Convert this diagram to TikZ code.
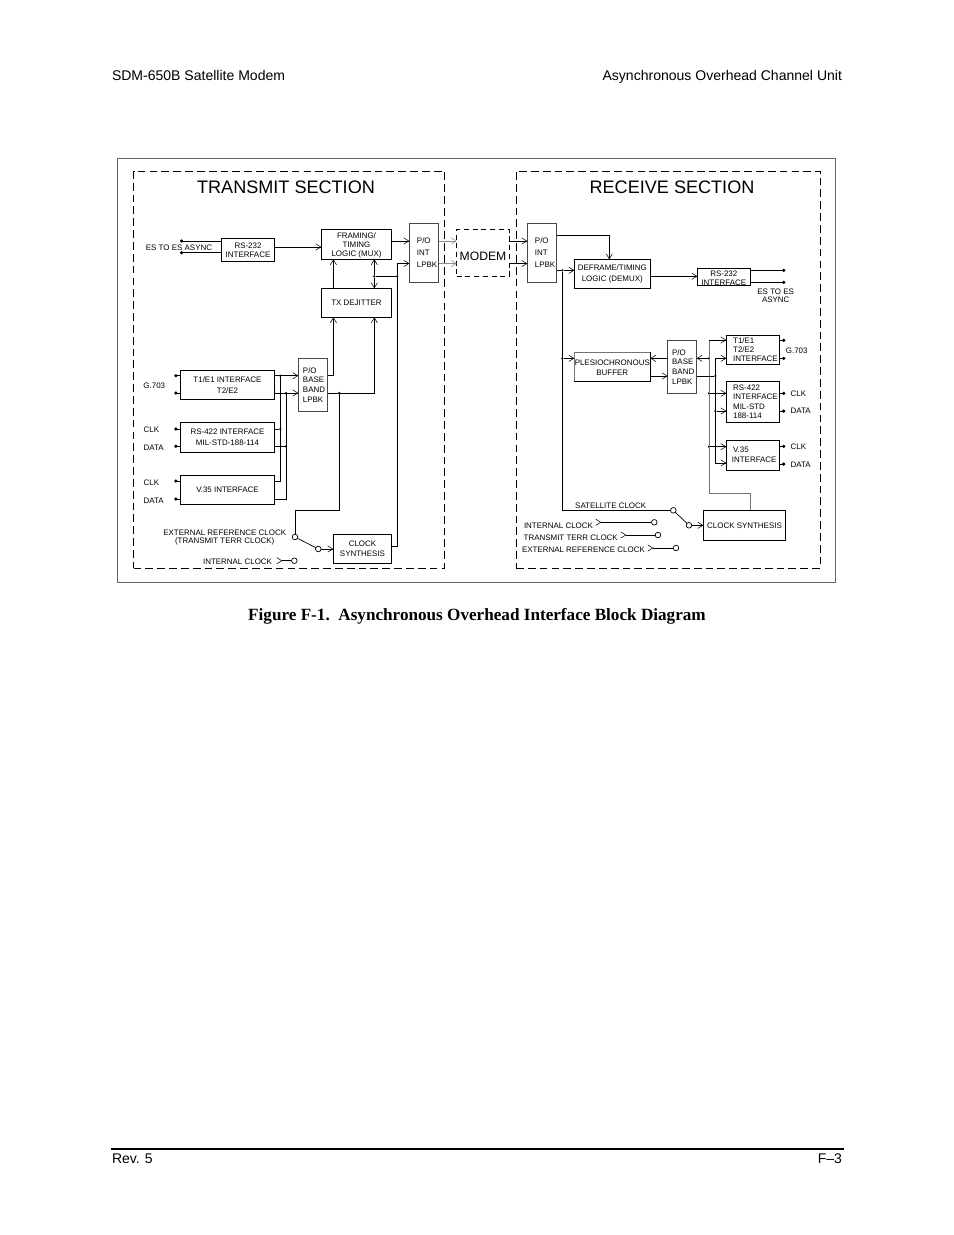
\documentclass[tikz,border=0pt]{standalone}
\usepackage{fontspec}
\setmainfont{Liberation Sans}
\newfontfamily\capfont{Liberation Serif}
\usetikzlibrary{arrows.meta,calc}
\newcommand\dgf[1]{\fontsize{5.1}{#1}\selectfont}
\newcommand\kk[1]{\hspace*{#1pt}}
\newcommand\dn[1]{\rule{0pt}{#1pt}}
\tikzset{
  x=0.6415pt,y=-0.6415pt,
  ln/.style={line width=0.62pt,black},
  ar/.style={ln,-{Straight Barb[length=3.2pt,width=4pt,line width=0.35pt]}},
  gar/.style={line width=0.62pt,black!45,-{Straight Barb[length=3.2pt,width=4pt,line width=0.35pt]}},
  gln/.style={line width=0.62pt,black!55},
  rev/.style={ln,{Straight Barb[length=3.2pt,width=4pt,line width=0.35pt,reversed]}-},
  blk/.style={draw=black,line width=0.62pt,inner sep=0pt,outer sep=0pt,align=center,font=\dgf{5.8}},
  pobox/.style={blk,draw=black!72,align=left,font=\dgf{7.7}},
  dbox/.style={draw=black,line width=0.62pt,dash pattern=on 5pt off 2.6pt},
  lb/.style={inner sep=0pt,outer sep=0pt,font=\dgf{5.4},align=center,yshift=-0.5pt},
  jd/.style={circle,fill=black,inner sep=0pt,minimum size=1.6pt,outer sep=0pt},
  sw/.style={circle,draw=black,fill=white,line width=0.45pt,inner sep=0pt,minimum size=3.6pt,outer sep=0pt},
  hd/.style={inner sep=0pt,outer sep=0pt,font=\fontsize{9}{11}\selectfont},
  ttl/.style={inner sep=0pt,outer sep=0pt,font=\fontsize{11.6}{14}\selectfont},
}
\newcommand\bx[6][]{\node[blk,minimum width={(#5-#3)*0.6415pt},minimum height={(#6-#4)*0.6415pt},#1] (#2) at ({(#3+#5)/2},{(#4+#6)/2})}
\newcommand\jd[3]{\node[jd] (#1) at (#2,#3) {};}
\newcommand\co[3]{\coordinate (#1) at (#2,#3);}
\begin{document}
\begin{tikzpicture}
\useasboundingbox (0,0) rectangle (954,1235);
\fill[white] (0,0) rectangle (954,1235);
% page furniture
\node[hd,anchor=base west] (h1) at (112,80.5) {SDM-650B Satellite Modem};
\node[hd,anchor=base east] (h2) at (842,80.5) {Asynchronous Overhead Channel Unit};
\node[inner sep=0pt,font=\capfont\bfseries\fontsize{11}{13}\selectfont] (cap) at (477,616) {Figure F-1.\ \ Asynchronous Overhead Interface Block Diagram};
\co{fl}{111}{1149}\co{fr}{844}{1149}
\draw[line width=1.1pt] (fl) -- (fr);
\node[hd,anchor=base west] (f1) at (112,1163.5) {Rev. 5};
\node[hd,anchor=base east] (f2) at (842,1163.5) {F–3};
% frames
\node[draw=black!60,line width=0.6pt,inner sep=0pt,minimum width={718*0.6415pt},minimum height={424*0.6415pt}] (outer) at (476.5,370.5) {};
\node[dbox,inner sep=0pt,minimum width={311*0.6415pt},minimum height={397*0.6415pt}] (txs) at (289,369.5) {};
\node[dbox,inner sep=0pt,minimum width={304.5*0.6415pt},minimum height={397*0.6415pt}] (rxs) at (668.25,369.5) {};
\node[ttl] (t1) at (286,187) {TRANSMIT SECTION};
\node[ttl] (t2) at (672,187) {RECEIVE SECTION};
% TX blocks
\bx{trs}{221.3}{238.3}{274.7}{261.7} {RS-232\\INTERFACE};
\bx{frm}{321.3}{229.3}{391.7}{259.3} {\dn{5.2}FRAMING/\\TIMING\\LOGIC (MUX)};
\bx[pobox]{tpi}{409.3}{223.3}{438.7}{282.3} {\kk{4}P/O\\\kk{4}INT\\\kk{4}LPBK};
\bx{dej}{321.3}{288.3}{391.7}{317.3} {TX DEJITTER};
\bx[font=\dgf{7.2}]{tt1}{180.3}{370.3}{274.7}{399.3} {T1/E1 INTERFACE\\T2/E2};
\bx[pobox,font=\dgf{6.2}]{tpb}{298.3}{358.3}{327.7}{411.3} {\kk{1.3}P/O\\\kk{1.3}BASE\\\kk{1.3}BAND\\\kk{1.3}LPBK};
\bx[font=\dgf{7.2}]{t42}{180.3}{422.3}{274.7}{452.3} {RS-422 INTERFACE\\MIL-STD-188-114};
\bx{tv3}{180.3}{475.3}{274.7}{504.3} {V.35 INTERFACE};
\bx[font=\dgf{6.4}]{tcs}{333.3}{534.3}{391.7}{563.3} {CLOCK\\SYNTHESIS};
% modem
\node[dbox,dash pattern=on 3.2pt off 2.4pt,inner sep=0pt,outer sep=0pt,minimum width={52.6*0.6415pt},minimum height={46.7*0.6415pt},font=\fontsize{7.8}{9}\selectfont] (mod) at (483,252.65) {\raisebox{-3.5pt}[3pt][0pt]{MODEM}};
% RX blocks
\bx[pobox]{rpi}{527.3}{223.3}{556.7}{282.3} {\kk{4}P/O\\\kk{4}INT\\\kk{4}LPBK};
\bx[font=\dgf{7.2}]{dfr}{574.3}{259.3}{650.3}{288.3} {DEFRAME/TIMING\\LOGIC (DEMUX)};
\bx[font=\dgf{5.8}]{rrs}{697.3}{268.3}{750.3}{285.3} {\dn{5.4}RS-232\\INTERFACE};
\bx[font=\dgf{6.8}]{ple}{574.3}{352.3}{650.3}{381.3} {\dn{5}PLESIOCHRONOUS\\BUFFER};
\bx[pobox,font=\dgf{6.2}]{rpb}{667.7}{340.3}{696.7}{393} {\kk{1.3}P/O\\\kk{1.3}BASE\\\kk{1.3}BAND\\\kk{1.3}LPBK};
\bx[align=left,font=\dgf{5.8}]{rt1}{726.3}{335.3}{779.3}{364.3} {\kk{3.4}T1/E1\\\kk{3.4}T2/E2\\\kk{3.4}INTERFACE};
\bx[align=left,font=\dgf{5.9}]{r42}{726.3}{381.3}{779.3}{422.3} {\kk{3.4}RS-422\\\kk{3.4}INTERFACE\\\kk{3.4}MIL-STD\\\kk{3.4}188-114};
\bx[align=left,font=\dgf{6.4}]{rv3}{726.3}{440.3}{779.3}{470} {\kk{2.6}V.35\\\kk{1.8}INTERFACE};
\bx{rcs}{703.3}{510.3}{785.7}{540.3} {CLOCK SYNTHESIS};
\draw[gln] (ple.south west) -- (ple.north west) -- (ple.north east);
% TX labels
\node[lb] (a1) at (179,246.7) {ES TO ES ASYNC};
\node[lb] (a2) at (154.3,385) {G.703};
\node[lb,anchor=west] (a3) at (143.7,429) {CLK};
\node[lb,anchor=west] (a4) at (143.7,447) {DATA};
\node[lb,anchor=west] (a5) at (143.7,482) {CLK};
\node[lb,anchor=west] (a6) at (143.7,500) {DATA};
\node[lb,font=\dgf{5.2}] (a7) at (224.7,536.5) {EXTERNAL REFERENCE CLOCK\\(TRANSMIT TERR CLOCK)};
\node[lb,anchor=east] (a8) at (272,561) {INTERNAL CLOCK};
% TX switches
\node[sw] (ts1) at (295,537) {};
\node[sw] (ts2) at (318.3,549) {};
\node[sw] (ts3) at (294.3,560.7) {};
% TX wiring
\co{e1}{180}{241}\co{e2}{180}{252.7}
\draw[ln,{Circle[length=2pt]}-] (e1) -- (trs.west |- e1);
\draw[ln,{Circle[length=2pt]}-] (e2) -- (trs.west |- e2);
\co{y0}{0}{247}
\draw[ar] (trs.east |- y0) -- (frm.west |- y0);
\co{y1}{0}{241}\co{y2}{0}{263.5}
\draw[ar] (frm.east |- y1) -- (tpi.west |- y1);
\co{b1}{397.3}{276.3}
\jd{j1}{374.3}{276.3}\jd{j2}{397.3}{276.3}
\draw[ar] (tcs.east |- 0,546) -- (b1 |- 0,546) -- (b1 |- y2) -- (tpi.west |- y2);
\draw[ln] (j1) -- (j2);
\draw[ar] (j1) -- (j1 |- frm.south);
\draw[ar] (j1) -- (j1 |- dej.north);
\co{d1}{333.4}{0}
\draw[ar] (d1 |- dej.north) -- (d1 |- frm.south);
% baseband to dejitter
\co{k1}{0}{375.7}\co{k2}{0}{393}
\draw[ar] (tpb.east |- k1) -- (d1 |- k1) -- (d1 |- dej.south);
\draw[ar] (tpb.east |- k2) -- (j1 |- k2) -- (j1 |- dej.south);
\jd{j3}{339.3}{393}
\coordinate (k3) at (295,510);
\draw[ln] (j3) -- (j3 |- k3) -- (k3) -- (ts1);
\draw[ln,line width=0.45pt] (ts1) -- (ts2);
\draw[ar] (ts2) -- (tcs.west |- ts2);
\draw[rev] (276.5,560.7) -- (ts3);
% interfaces
\foreach \n/\p in {tt1/375.7,tt1/393,t42/429,t42/446.3,tv3/481,tv3/499}{
  \draw[ln,-{Circle[length=2pt]}] (\n.west |- 0,\p) -- (174.3,\p);
}
\draw[ar] (tt1.east |- k1) -- (tpb.west |- k1);
\draw[ar] (tt1.east |- k2) -- (tpb.west |- k2);
\jd{j4}{280.3}{375.7}\jd{j5}{286}{393}\jd{j6}{280.3}{429}\jd{j7}{286}{446.3}
\draw[ln] (j4) -- (j4 |- 0,481) -- (tv3.east |- 0,481);
\draw[ln] (j5) -- (j5 |- 0,499) -- (tv3.east |- 0,499);
\draw[ln] (t42.east |- j6) -- (j6);
\draw[ln] (t42.east |- j7) -- (j7);
% P/O to modem and modem to P/O
\draw[gar] (tpi.east |- y1) -- (mod.west |- y1);
\draw[gar] (tpi.east |- y2) -- (mod.west |- y2);
\draw[ar] (mod.east |- y1) -- (rpi.west |- y1);
\draw[ar] (mod.east |- y2) -- (rpi.west |- y2);
% RX labels
\node[lb,font=\dgf{4.6}] (c1) at (775.7,295) {ES TO ES\\ASYNC};
\node[lb] (c2) at (796.7,350) {G.703};
\node[lb,anchor=west] (c3) at (790.7,393.3) {CLK};
\node[lb,anchor=west] (c4) at (790.7,410.3) {DATA};
\node[lb,anchor=west] (c5) at (790.7,446) {CLK};
\node[lb,anchor=west] (c6) at (790.7,464) {DATA};
\node[lb] (c7) at (610.7,505) {SATELLITE CLOCK};
\node[lb,anchor=west] (c8) at (524,525) {INTERNAL CLOCK};
\node[lb,anchor=west] (c9) at (523.7,537) {TRANSMIT TERR CLOCK};
\node[lb,anchor=west] (c10) at (522,549) {EXTERNAL REFERENCE CLOCK};
% RX switches
\node[sw] (rs1) at (673.3,510.3) {};
\node[sw] (rs2) at (689,525.3) {};
\node[sw] (rs3) at (654.3,522.3) {};
\node[sw] (rs4) at (658,535) {};
\node[sw] (rs5) at (676,548) {};
\draw[rev] (595.5,522.3) -- (rs3);
\draw[rev] (620.5,535) -- (rs4);
\draw[rev] (647.5,548) -- (rs5);
\draw[ln,line width=0.45pt] (rs1) -- (rs2);
\draw[ar] (rs2) -- (rcs.west |- rs2);
% RX wiring
\co{m1}{609.3}{235.3}
\draw[ar] (rpi.east |- m1) -- (m1) -- (m1 |- dfr.north);
\jd{j8}{562.3}{270.3}\jd{j9}{562.3}{358.3}
\draw[ln] (rpi.east |- j8) -- (j8);
\draw[ar] (j8) -- (dfr.west |- j8);
\draw[ar] (j9) -- (ple.west |- j9);
\draw[ln] (j8) -- (j8 |- rs1) -- (rs1);
\draw[ar] (dfr.east |- 0,276.3) -- (rrs.west |- 0,276.3);
\draw[ln,-{Circle[length=2pt]}] (rrs.east |- 0,270.3) -- (785.3,270.3);
\draw[ln,-{Circle[length=2pt]}] (rrs.east |- 0,282.3) -- (785.3,282.3);
\draw[ar] (rpb.west |- j9) -- (ple.east |- j9);
\draw[ar] (ple.east |- 0,376) -- (rpb.west |- 0,376);
% gray bus
\jd{j10}{709}{358.3}\jd{j11}{709}{393.3}\jd{j12}{709}{446.7}
\coordinate (g1) at (709,340);
\coordinate (g2) at (709,493.3);
\draw[gln] (g1) -- (g2) -- (750,493.3) -- (rcs.north -| 750,0);
\draw[ar] (g1) -- (rt1.west |- g1);
\draw[ar] (j10) -- (rpb.east |- j10);
\draw[ar] (j11) -- (r42.west |- j11);
\draw[ar] (j12) -- (rv3.west |- j12);
% black bus
\jd{j13}{715.3}{376}\jd{j14}{715.3}{411}
\coordinate (g3) at (715.3,358.3);
\coordinate (g4) at (715.3,463);
\draw[ln] (g3) -- (g4);
\draw[ln] (rpb.east |- j13) -- (j13);
\draw[ar] (g3) -- (rt1.west |- g3);
\draw[ar] (j14) -- (r42.west |- j14);
\draw[ar] (g4) -- (rv3.west |- g4);
% outputs
\foreach \n/\p in {rt1/340.3,rt1/358.3,r42/393.3,r42/411,rv3/446.3,rv3/464}{
  \draw[ln,-{Circle[length=2pt]}] (\n.east |- 0,\p) -- (785.3,\p);
}
\end{tikzpicture}
\end{document}
